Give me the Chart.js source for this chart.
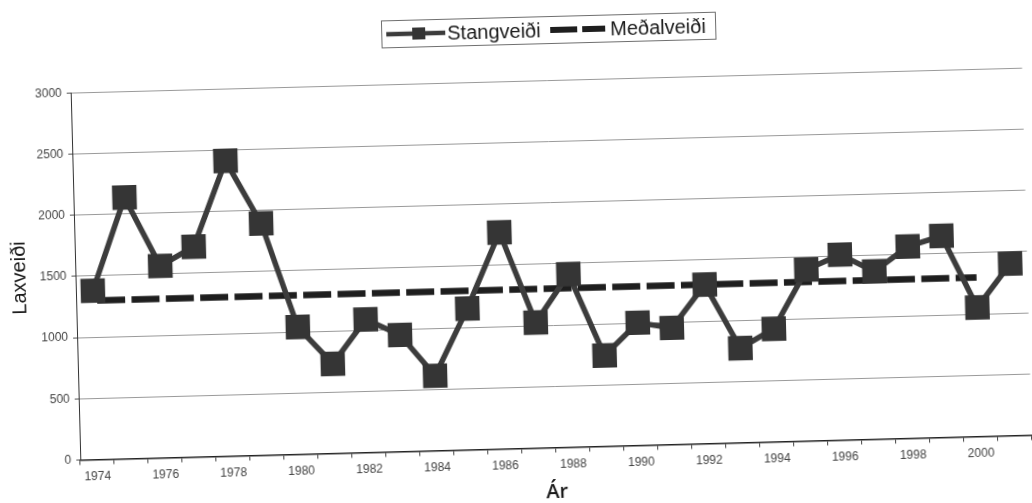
<!DOCTYPE html>
<html>
<head>
<meta charset="utf-8">
<title>Stangveiði 1974–2001</title>
<script src="https://cdn.jsdelivr.net/npm/chart.js@4.4.1/dist/chart.umd.min.js"></script>
<style>
  html, body { margin: 0; padding: 0; background: #fff; }
  #frame { position: relative; width: 1032px; height: 503px; overflow: hidden; background: #fff; }
  /* the printed sheet sits slightly askew */
  #sheet { position: absolute; left: 0; top: 0; width: 1044px; height: 503px;
           transform: rotate(-1.5deg); transform-origin: 516px 251.5px; }
  canvas { display: block; }
</style>
</head>
<body>
<div id="frame"><div id="sheet"><canvas id="chart" width="1044" height="503"></canvas></div></div>
<script>
// Years on the category axis
const years = ['1974','1975','1976','1977','1978','1979','1980','1981','1982','1983',
               '1984','1985','1986','1987','1988','1989','1990','1991','1992','1993',
               '1994','1995','1996','1997','1998','1999','2000','2001'];

// Years that carry a tick label
const yearLabels = ['1974','1976','1978','1980','1982','1984','1986','1988',
                    '1990','1992','1994','1996','1998','2000'];

// Rod catch of salmon per year
const rodCatch = [1380, 2135, 1568, 1718, 2412, 1894, 1040, 732, 1087, 953,
                  612, 1155, 1770, 1025, 1414, 742, 1002, 953, 1300, 773,
                  924, 1399, 1515, 1370, 1567, 1646, 1054, 1406];

// Average catch 1974–2000
const avgCatch = [1300, 1300, 1300, 1300, 1300, 1300, 1300, 1300, 1300, 1300,
                  1300, 1300, 1300, 1300, 1300, 1300, 1300, 1300, 1300, 1300,
                  1300, 1300, 1300, 1300, 1300, 1300, 1300, null];

// Value axis ticks
const yTicks = [0, 500, 1000, 1500, 2000, 2500, 3000];

const FONT = "'Liberation Sans', Arial, sans-serif";

// Boxed legend: line-with-marker sample and dashed-line sample
const boxedLegend = {
  id: 'boxedLegend',
  afterDraw(chart) {
    const ctx = chart.ctx;
    const [rod, avg] = chart.data.datasets;
    const cy = 31;
    ctx.save();
    ctx.strokeStyle = '#6f6f6f';
    ctx.lineWidth = 1;
    ctx.strokeRect(387.5, 17.5, 334, 27);

    // line with square marker
    ctx.strokeStyle = rod.borderColor;
    ctx.lineWidth = 4.5;
    ctx.beginPath(); ctx.moveTo(392, cy); ctx.lineTo(451, cy); ctx.stroke();
    ctx.fillStyle = rod.pointBackgroundColor;
    ctx.fillRect(418, cy - 6, 13, 12);

    // dashed line
    ctx.strokeStyle = avg.borderColor;
    ctx.lineWidth = 6;
    ctx.setLineDash([27, 5]);
    ctx.beginPath(); ctx.moveTo(556, cy); ctx.lineTo(611, cy); ctx.stroke();
    ctx.setLineDash([]);

    ctx.fillStyle = '#1a1a1a';
    ctx.font = '20px ' + FONT;
    ctx.textBaseline = 'middle';
    ctx.textAlign = 'left';
    ctx.fillText(rod.label, 453, cy + 1);
    ctx.fillText(avg.label, 616, cy + 1);
    ctx.restore();
  }
};

new Chart(document.getElementById('chart'), {
  type: 'line',
  data: {
    labels: years,
    datasets: [
      {
        label: 'Stangveiði',
        data: rodCatch,
        borderColor: '#3c3c3c',
        borderWidth: 5.5,
        pointStyle: 'rect',
        pointRadius: 17.3,
        pointBackgroundColor: '#353535',
        pointBorderColor: '#353535',
        pointBorderWidth: 0,
        tension: 0
      },
      {
        label: 'Meðalveiði',
        data: avgCatch,
        borderColor: '#1e1e1e',
        borderWidth: 6.5,
        borderDash: [28, 6.35],
        borderDashOffset: 30.3,
        pointRadius: 0,
        tension: 0,
        spanGaps: false
      }
    ]
  },
  options: {
    responsive: false,
    animation: false,
    events: [],
    layout: { padding: { top: 81.4, right: 7, bottom: 0, left: 0 } },
    plugins: {
      legend: { display: false },
      tooltip: { enabled: false }
    },
    scales: {
      x: {
        type: 'category',
        offset: true,
        afterFit(scale) { scale.height = 54.5; },
        border: { display: true, color: '#222', width: 1.5 },
        grid: { display: true, drawOnChartArea: false, drawTicks: true, tickLength: 5,
                tickColor: '#444', offset: true },
        ticks: {
          autoSkip: false, maxRotation: 0, minRotation: 0, padding: 5,
          color: '#444', font: { family: FONT, size: 12 },
          callback(value, index) {
            const y = years[index];
            return yearLabels.includes(y) ? y : '';
          }
        },
        title: { display: true, text: 'Ár', color: '#1a1a1a',
                 font: { family: "'Open Sans', sans-serif", size: 20, weight: '600', lineHeight: 1 },
                 padding: { top: 0, bottom: 0 } }
      },
      y: {
        min: 0, max: 3000,
        afterFit(scale) { scale.width = 75; },
        afterBuildTicks(scale) { scale.ticks = yTicks.map(v => ({ value: v })); },
        border: { display: true, color: '#333', width: 1 },
        grid: { color: '#9a9a9a', lineWidth: 1, drawTicks: true, tickLength: 4, tickColor: '#555' },
        ticks: { padding: 5, color: '#444', font: { family: FONT, size: 12 },
                 callback(value) { return String(value); } },
        title: { display: true, text: 'Laxveiði', color: '#1a1a1a',
                 font: { family: FONT, size: 20, lineHeight: 1.2 },
                 padding: { top: 7, bottom: 0 } }
      }
    }
  },
  plugins: [boxedLegend]
});
</script>
</body>
</html>
